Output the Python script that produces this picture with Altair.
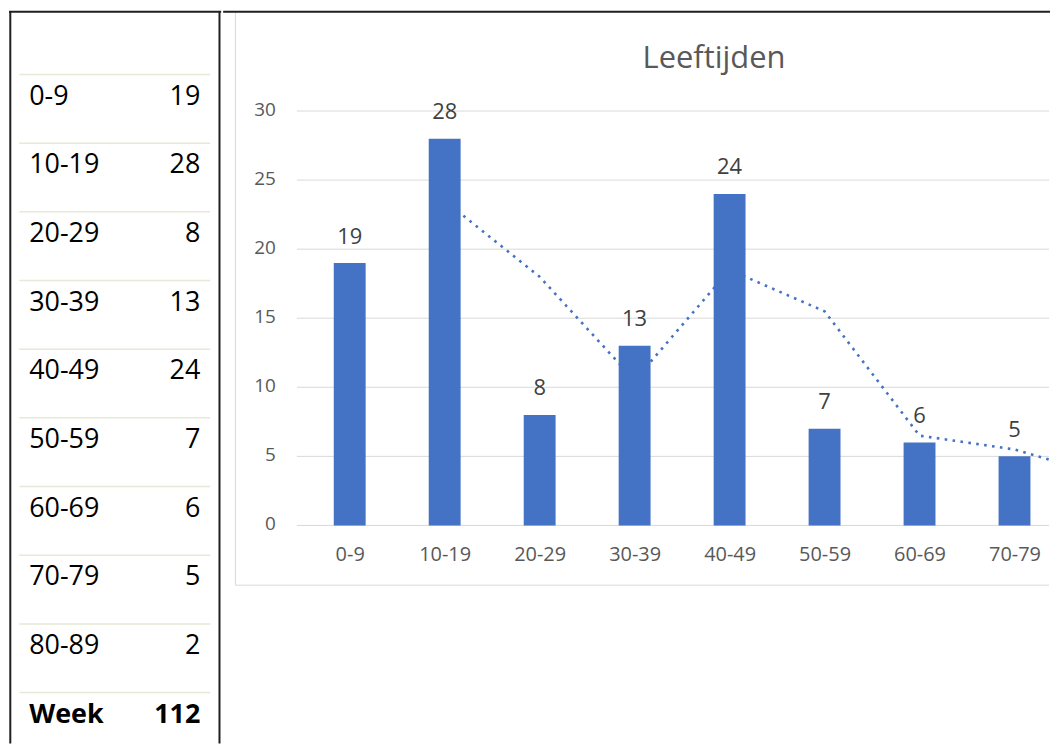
import json
import altair as alt
import pandas as pd

# ---------------- data ----------------
categories = ["0-9", "10-19", "20-29", "30-39", "40-49", "50-59", "60-69", "70-79", "80-89"]
counts = [19, 28, 8, 13, 24, 7, 6, 5, 2]
trend_categories = ["10-19", "20-29", "30-39", "40-49", "50-59", "60-69", "70-79", "80-89"]
trend_values = [23.5, 18, 10.5, 18.5, 15.5, 6.5, 5.5, 3.5]
total_label = "Week"
total_value = 112
title_text = "Leeftijden"
y_ticks = [0, 5, 10, 15, 20, 25, 30]
visible_categories = categories[:8]

# ---------------- style ----------------
FONT = "Open Sans"
BLUE = "#4472C4"
BORDER = "#1f1f1f"
GRID = "#d9d9d9"
SEP = "#e6e9d6"
LABEL = "#595959"

LW, RW, H = 213, 830, 737

rows = categories + [total_label]
df_rows = pd.DataFrame({"row": categories, "value": counts})
df_total = pd.DataFrame({"row": [total_label], "value": [total_value]})
df_sep = pd.DataFrame({"row": rows})
df_one = pd.DataFrame({"k": [0]})
df_bars = pd.DataFrame({"cat": categories, "idx": list(range(len(categories))), "count": counts})
df_trend = pd.DataFrame({"cat": trend_categories,
                         "idx": [categories.index(c) for c in trend_categories],
                         "trend": trend_values})
df_grid = pd.DataFrame({"tick": y_ticks})
df_title = pd.DataFrame({"t": [title_text]})

# ---------------- left table panel ----------------
row_y = alt.Y("row:N", scale=alt.Scale(type="point", domain=rows, range=[86.5, 707], padding=0), axis=None)

sep = alt.Chart(df_sep).mark_rule(color=SEP, strokeWidth=1.5, yOffset=-22.2).encode(
    y=row_y, x=alt.value(10.3), x2=alt.value(202))
lbl = alt.Chart(df_rows).mark_text(align="left", baseline="middle", font=FONT, fontSize=27, color="#000000").encode(
    y=row_y, x=alt.value(20.3), text="row:N")
val = alt.Chart(df_rows).mark_text(align="right", baseline="middle", font=FONT, fontSize=27, color="#000000").encode(
    y=row_y, x=alt.value(192), text="value:Q")
tot_lbl = alt.Chart(df_total).mark_text(align="left", baseline="middle", font=FONT, fontSize=27, fontWeight="bold", color="#000000").encode(
    y=row_y, x=alt.value(20.3), text="row:N")
tot_val = alt.Chart(df_total).mark_text(align="right", baseline="middle", font=FONT, fontSize=27, fontWeight="bold", color="#000000").encode(
    y=row_y, x=alt.value(192), text="value:Q")

top_l = alt.Chart(df_one).mark_rule(color=BORDER, strokeWidth=2, strokeCap="square").encode(
    x=alt.value(1), x2=alt.value(LW - 1), y=alt.value(1.3))
left_b = alt.Chart(df_one).mark_rule(color=BORDER, strokeWidth=2).encode(
    x=alt.value(1.3), y=alt.value(1), y2=alt.value(H - 1))
divider = alt.Chart(df_one).mark_rule(color=BORDER, strokeWidth=2).encode(
    x=alt.value(LW - 1.7), y=alt.value(1), y2=alt.value(H - 1))

left = alt.layer(sep, lbl, val, tot_lbl, tot_val, top_l, left_b, divider).properties(width=LW, height=H)

# ---------------- right chart panel ----------------
# category index axis: step 96.5 px, first category centred 123.5 px into the panel
xscale = alt.Scale(domain=[-1.2798, 7.3212], nice=False, zero=False)
yscale = alt.Scale(domain=[0, 30], range=[517, 101], nice=False, zero=True)

label_expr = json.dumps(categories) + "[datum.value]"
xaxis = alt.Axis(values=list(range(len(visible_categories))), labelExpr=label_expr, orient="bottom",
                 offset=-(H - 517), labelPadding=19.6, ticks=False, tickSize=0, domain=False, grid=False,
                 labelFont=FONT, labelFontSize=20, labelColor=LABEL, title=None, labelAngle=0,
                 labelFlush=False, labelOverlap=False)
yaxis = alt.Axis(values=y_ticks, orient="left", offset=-52.3, labelPadding=0, ticks=False, tickSize=0,
                 domain=False, grid=False, labelFont=FONT, labelFontSize=19, labelColor=LABEL, title=None,
                 labelOffset=-1.5, labelFlush=False, labelOverlap=False)

x_enc = alt.X("idx:Q", scale=xscale, axis=xaxis)

grid = alt.Chart(df_grid).mark_rule(color=GRID, strokeWidth=1).encode(
    y=alt.Y("tick:Q", scale=yscale, axis=yaxis), x=alt.value(74), x2=alt.value(RW - 1))
bars = alt.Chart(df_bars).mark_bar(color=BLUE, orient="vertical", size=32, clip=True).encode(
    x=x_enc, y=alt.Y("count:Q", scale=yscale, axis=yaxis))
trend = alt.Chart(df_trend).mark_line(color=BLUE, strokeWidth=2.6, strokeDash=[2.6, 5.4], clip=True).encode(
    x=x_enc, y=alt.Y("trend:Q", scale=yscale, axis=yaxis))
blabels = alt.Chart(df_bars).mark_text(dy=-26.5, baseline="middle", font=FONT, fontSize=22, color="#404040", clip=True).encode(
    x=x_enc, y=alt.Y("count:Q", scale=yscale, axis=yaxis), text="count:Q")
title = alt.Chart(df_title).mark_text(align="center", baseline="alphabetic", font=FONT, fontSize=31, color=LABEL).encode(
    x=alt.value(492.7), y=alt.value(58), text="t:N")

frame_l = alt.Chart(df_one).mark_rule(color=GRID, strokeWidth=1).encode(
    x=alt.value(12.3), y=alt.value(2), y2=alt.value(577))
frame_b = alt.Chart(df_one).mark_rule(color=GRID, strokeWidth=1).encode(
    x=alt.value(12.3), x2=alt.value(RW - 1), y=alt.value(577))
top_r = alt.Chart(df_one).mark_rule(color=BORDER, strokeWidth=2, strokeCap="square").encode(
    x=alt.value(1), x2=alt.value(RW - 1), y=alt.value(1.3))

right = alt.layer(grid, bars, trend, blabels, title, frame_l, frame_b, top_r).properties(width=RW, height=H)

chart = alt.hconcat(left, right, spacing=0).properties(
    padding=0, background="white"
).configure_view(stroke=None)

chart.save("out.html", embed_options={"renderer": "svg", "actions": False})
